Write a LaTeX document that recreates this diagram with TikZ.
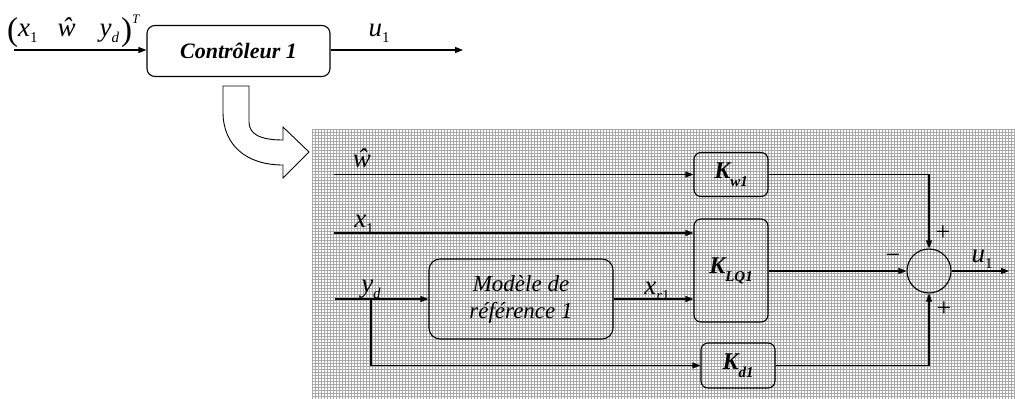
\documentclass[tikz,border=0pt]{standalone}
\usepackage{fontspec}
\setmainfont{Liberation Serif}
\usetikzlibrary{positioning,arrows.meta,calc}
\newcommand{\sub}[1]{\raisebox{-6pt}{\fontsize{15}{15}\selectfont\upshape #1}}
\newcommand{\ksub}[1]{\raisebox{-8pt}{\fontsize{15}{15}\selectfont\bfseries\itshape #1}}
\newcommand{\bigparen}[1]{\raisebox{-4pt}{\fontsize{33}{33}\selectfont\upshape #1}}
\tikzset{
  ctrlbox/.style={draw, line width=1.1pt, rounded corners=8pt, minimum width=183pt, minimum height=51pt, inner sep=0pt, font=\fontsize{22}{24}\selectfont\bfseries\itshape},
  gainbox/.style={draw, line width=1.1pt, rounded corners=7pt, minimum width=74pt, inner sep=0pt, font=\fontsize{24}{26}\selectfont\bfseries\itshape},
  modelbox/.style={draw, line width=1.1pt, rounded corners=11pt, minimum width=184pt, minimum height=80pt, inner sep=0pt, align=center, font=\fontsize{23}{27}\selectfont\itshape},
  sumnode/.style={circle, draw, line width=1.1pt, minimum size=44pt, inner sep=0pt},
  sigarrow/.style={-{Triangle[length=8pt,width=6pt]}, line width=1.1pt},
  varlabel/.style={anchor=base, inner sep=0pt, font=\fontsize{27}{29}\selectfont\itshape},
  signlabel/.style={inner sep=0pt, font=\fontsize{26}{26}\selectfont},
  bgfield/.style={draw=black!34, line width=0.9pt}
}
\begin{document}
\begin{tikzpicture}[x=1pt, y=-1pt]
  \useasboundingbox (0,0) rectangle (1015,399);
  \draw[bgfield, step=3pt] (312,129) grid (1015,399);

  \node[ctrlbox] (ctrl) at (238.5,51) {Contrôleur 1};
  \coordinate (ctrlin) at (14,50);
  \coordinate (ctrlout) at (463,50);
  \draw[sigarrow] (ctrlin) -- (ctrlin -| ctrl.west);
  \draw[sigarrow] (ctrlout -| ctrl.east) -- (ctrlout);
  \node[varlabel, anchor=base west] (vecin) at (7,36) {\bigparen{(}x\sub{1}\hspace{20pt}ŵ\hspace{24pt}y\sub{\itshape d}\hspace{2pt}\bigparen{)}\raisebox{13pt}{\fontsize{13}{13}\selectfont T}};
  \node[varlabel] (uout) at (379,36) {u\sub{1}};

  \draw[line width=0.9pt, fill=white] (223,86) -- (249,86) -- (249,122) .. controls (249,134) and (260,140) .. (283,140) -- (283,127) -- (309,152) -- (283,178) -- (283,165) .. controls (246,165) and (223,145) .. (223,112) -- cycle;

  \node[gainbox, minimum height=44pt] (kw) at (731,174.5) {K\ksub{w1}};
  \node[gainbox, minimum height=103pt] (klq) at (731,270.5) {K\ksub{LQ1}};
  \node[gainbox, minimum height=45pt] (kd) at (738,365.5) {K\ksub{d1}};
  \node[modelbox] (model) at (521,299) {Modèle de\\référence 1};
  \node[sumnode] (sum) at (929,271) {};

  \coordinate (win) at (334,174.5);
  \coordinate (xin) at (334,233);
  \coordinate (ydin) at (335,299);
  \coordinate (ydsplit) at (371,299);
  \coordinate (uend) at (1009,271);
  \draw[sigarrow] (win) -- (kw.west);
  \draw[sigarrow] (xin) -- (xin -| klq.west);
  \draw[sigarrow] (ydin) -- (model.west);
  \draw[sigarrow] (ydsplit) |- (kd.west);
  \draw[sigarrow] (model.east) -- (model.east -| klq.west);
  \draw[sigarrow] (kw.east) -| (sum.north);
  \draw[sigarrow] (klq.east |- sum) -- (sum.west);
  \draw[sigarrow] (kd.east) -| (sum.south);
  \draw[sigarrow] (sum.east) -- (uend);

  \node[varlabel] (wlbl) at (362,167) {ŵ};
  \node[varlabel] (xlbl) at (364,227) {x\sub{1}};
  \node[varlabel] (ydlbl) at (371,292) {y\sub{\itshape d}};
  \node[varlabel] (xrlbl) at (657,294) {x\sub{{\itshape r}1}};
  \node[varlabel] (ulbl) at (982,262) {u\sub{1}};
  \node[signlabel] (plusw) at (943,233) {+};
  \node[signlabel] (minuslq) at (893,259) {−};
  \node[signlabel] (plusd) at (944,309) {+};
\end{tikzpicture}
\end{document}
